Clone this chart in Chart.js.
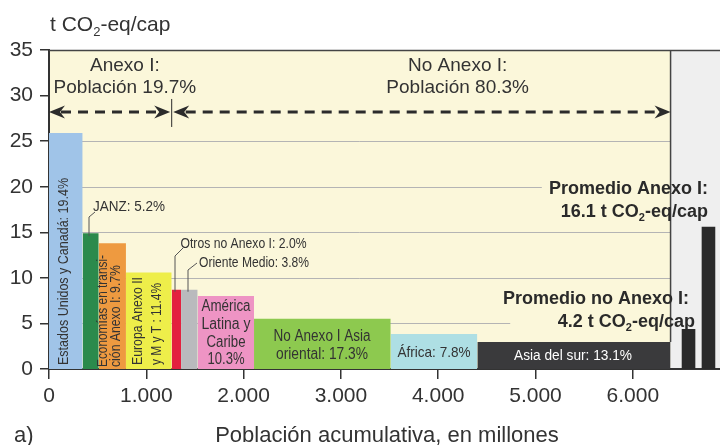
<!DOCTYPE html>
<html>
<head>
<meta charset="utf-8">
<script src="https://cdn.jsdelivr.net/npm/chart.js@4.4.1/dist/chart.umd.min.js"></script>
<style>
  html, body { margin: 0; padding: 0; background: #fff; }
  canvas { display: block; }
</style>
</head>
<body>
<canvas id="chart" width="720" height="445"></canvas>
<script>
// Regions, ordered by emissions per capita
const regionNames = [
  "Estados Unidos y Canadá", "JANZ", "Economías en transición Anexo I",
  "Europa Anexo II y M y T", "Otros no Anexo I", "Oriente Medio",
  "América Latina y Caribe", "No Anexo I Asia oriental", "África", "Asia del sur"
];
// cumulative population at the right edge of each bar (millions)
const popCumulative = [346, 511, 791, 1261, 1357, 1528, 2107, 3512, 4402, 6388];
// t CO2-eq per capita
const emissionsPerCap = [25.9, 14.9, 13.8, 10.6, 8.7, 8.7, 8.0, 5.5, 3.85, 2.97];

// averages (right panel)
const avgNames = ["Promedio no Anexo I", "Promedio Anexo I"];
const avgValues = [4.4, 15.6];

const xTicks = [0, 1000, 2000, 3000, 4000, 5000, 6000];
const yTicks = [0, 5, 10, 15, 20, 25, 30, 35];

const barColors = ["#a0c4e8", "#2b8a4c", "#ee9a40", "#eeee4a", "#e3213f",
  "#b9babd", "#ee94c4", "#8dc94f", "#aedfe4", "#3a3a3c"];
const avgSlots = [[6500, 6645], [6705, 6850]];
const FONT = "'Liberation Sans', Arial, sans-serif";

const datasets = regionNames.map((name, i) => ({
  label: name,
  data: [
    { x: i ? popCumulative[i - 1] : 0, y: emissionsPerCap[i] },
    { x: popCumulative[i], y: emissionsPerCap[i] }
  ],
  backgroundColor: barColors[i],
  borderColor: "rgba(0,0,0,0)",
  borderWidth: 0,
  pointRadius: 0,
  fill: "origin"
}));
avgNames.forEach((name, i) => {
  datasets.push({
    label: name,
    data: [
      { x: avgSlots[i][0], y: avgValues[i] },
      { x: avgSlots[i][1], y: avgValues[i] }
    ],
    backgroundColor: "#2a2a2a",
    borderColor: "rgba(0,0,0,0)",
    borderWidth: 0,
    pointRadius: 0,
    fill: "origin"
  });
});

// draw "t CO2-eq/cap" style strings with a subscript 2
function richText(ctx, parts, x, y, align, size, weight) {
  const big = weight + " " + size + "px " + FONT;
  const small = weight + " " + Math.round(size * 0.6) + "px " + FONT;
  let total = 0;
  parts.forEach(p => { ctx.font = p.sub ? small : big; total += ctx.measureText(p.t).width; });
  let cx = align === "right" ? x - total : align === "center" ? x - total / 2 : x;
  ctx.textAlign = "left";
  ctx.textBaseline = "middle";
  parts.forEach(p => {
    ctx.font = p.sub ? small : big;
    ctx.fillText(p.t, cx, p.sub ? y + size * 0.35 : y);
    cx += ctx.measureText(p.t).width;
  });
}

function arrowHead(ctx, tipX, y, dir) {
  ctx.beginPath();
  ctx.moveTo(tipX, y);
  ctx.lineTo(tipX - dir * 16, y - 6.5);
  ctx.lineTo(tipX - dir * 11, y);
  ctx.lineTo(tipX - dir * 16, y + 6.5);
  ctx.closePath();
  ctx.fill();
}

const decor = {
  id: "decor",
  beforeDraw(chart) {
    const ctx = chart.ctx, xs = chart.scales.x, ys = chart.scales.y, a = chart.chartArea;
    const X = v => xs.getPixelForValue(v), Y = v => ys.getPixelForValue(v);
    const endX = popCumulative[popCumulative.length - 1];
    ctx.save();
    ctx.fillStyle = "#fff";
    ctx.fillRect(0, 0, chart.width, chart.height);
    ctx.fillStyle = "#fbf7da";
    ctx.fillRect(a.left, a.top, X(endX) - a.left, a.bottom - a.top);
    ctx.fillStyle = "#efefef";
    ctx.fillRect(X(endX), a.top, a.right - X(endX), a.bottom - a.top);
    // gridlines, stopped short where the average labels sit
    const gridEnd = { 5: 4740, 10: endX, 15: endX, 20: 5065, 25: endX };
    ctx.strokeStyle = "#b4b4b4";
    ctx.lineWidth = 1;
    Object.keys(gridEnd).forEach(v => {
      const y = Math.round(Y(+v)) + 0.5;
      ctx.beginPath();
      ctx.moveTo(a.left, y);
      ctx.lineTo(X(gridEnd[v]), y);
      ctx.stroke();
    });
    ctx.restore();
  },
  afterDatasetsDraw(chart) {
    const ctx = chart.ctx, xs = chart.scales.x, ys = chart.scales.y, a = chart.chartArea;
    const X = v => xs.getPixelForValue(v), Y = v => ys.getPixelForValue(v);
    const endX = popCumulative[popCumulative.length - 1];
    const split = popCumulative[3];
    ctx.save();

    // frame: top line and right edge of the yellow panel
    ctx.strokeStyle = "#444";
    ctx.lineWidth = 1.5;
    ctx.beginPath();
    ctx.moveTo(a.left, a.top + 0.5);
    ctx.lineTo(a.right, a.top + 0.5);
    ctx.moveTo(X(endX), a.top);
    ctx.lineTo(X(endX), Y(emissionsPerCap[9]));
    ctx.stroke();

    // dashed population arrows
    const ay = Y(28.2);
    ctx.strokeStyle = "#2b2b2b";
    ctx.fillStyle = "#2b2b2b";
    ctx.lineWidth = 3;
    ctx.setLineDash([10, 7]);
    ctx.beginPath();
    ctx.moveTo(X(0) + 12, ay); ctx.lineTo(X(split) - 12, ay);
    ctx.moveTo(X(split) + 14, ay); ctx.lineTo(X(endX) - 12, ay);
    ctx.stroke();
    ctx.setLineDash([]);
    arrowHead(ctx, X(0), ay, -1);
    arrowHead(ctx, X(split) - 1.5, ay, 1);
    arrowHead(ctx, X(split) + 1.5, ay, -1);
    arrowHead(ctx, X(endX), ay, 1);
    ctx.lineWidth = 1;
    ctx.beginPath();
    ctx.moveTo(X(split), ay - 13); ctx.lineTo(X(split), ay + 15);
    ctx.stroke();

    // group labels
    ctx.fillStyle = "#333";
    ctx.font = "19px " + FONT;
    ctx.textAlign = "center";
    ctx.textBaseline = "middle";
    ctx.fillText("Anexo I:", X(780), 66);
    ctx.fillText("Población 19.7%", X(780), 88);
    ctx.fillText("No Anexo I:", X(4200), 66);
    ctx.fillText("Población 80.3%", X(4200), 88);

    // axis titles
    richText(ctx, [{ t: "t CO" }, { t: "2", sub: true }, { t: "-eq/cap" }], 50, 25, "left", 21, "normal");
    ctx.fillStyle = "#333";
    ctx.font = "22px " + FONT;
    ctx.textAlign = "center";
    ctx.fillText("Población acumulativa, en millones", 387, 436);
    ctx.textAlign = "left";
    ctx.fillText("a)", 14, 436);

    // rotated labels inside the tall bars
    const rot = (lines, cxs, bottom, size, widths) => {
      ctx.font = size + "px " + FONT;
      ctx.textAlign = "left";
      ctx.textBaseline = "middle";
      lines.forEach((t, i) => {
        ctx.save();
        ctx.translate(cxs[i], bottom);
        ctx.rotate(-Math.PI / 2);
        ctx.fillText(t, 0, 0, widths[i]);
        ctx.restore();
      });
    };
    ctx.fillStyle = "#333";
    rot(["Estados Unidos y Canadá: 19.4%"], [64], 365, 15, [187]);
    rot(["Economías en transi-", "ción Anexo I: 9.7%"], [103, 116.5], 367, 14, [112, 102]);
    rot(["Europa Anexo II", "y M y T : 11.4%"], [138.5, 157.5], 365, 14, [88, 82]);

    // horizontal labels
    const txt = (t, x, y, size, maxW, align) => {
      ctx.font = size + "px " + FONT;
      ctx.textAlign = align || "center";
      ctx.textBaseline = "middle";
      ctx.fillText(t, x, y, maxW);
    };
    txt("JANZ: 5.2%", 93, 207, 14, 72, "left");
    txt("Otros no Anexo I: 2.0%", 180.5, 244, 14, 126, "left");
    txt("Oriente Medio: 3.8%", 199, 263, 14, 110, "left");
    txt("América", 226, 307, 16, 49);
    txt("Latina y", 226, 325, 16, 49);
    txt("Caribe", 226, 343, 16, 39);
    txt("10.3%", 226, 360, 16, 37);
    txt("No Anexo I Asia", 322, 337, 16, 97);
    txt("oriental: 17.3%", 322, 355, 16, 92);
    txt("África: 7.8%", 434, 353, 15, 73);
    ctx.fillStyle = "#fff";
    txt("Asia del sur: 13.1%", 573, 356, 14, 118);

    // leader lines
    ctx.strokeStyle = "#555";
    ctx.lineWidth = 1;
    ctx.beginPath();
    ctx.moveTo(89, Y(emissionsPerCap[1]) + 3); ctx.lineTo(89, 217); ctx.lineTo(95, 212);
    ctx.moveTo(175, Y(emissionsPerCap[4]) + 2); ctx.lineTo(175, 256); ctx.lineTo(183, 248);
    ctx.moveTo(188, Y(emissionsPerCap[5]) + 2); ctx.lineTo(188, 270); ctx.lineTo(197, 263);
    ctx.stroke();

    // average labels
    ctx.fillStyle = "#2a2a2a";
    ctx.font = "bold 18px " + FONT;
    ctx.textAlign = "right";
    ctx.textBaseline = "middle";
    ctx.fillText("Promedio Anexo I:", 708, 189, 164);
    richText(ctx, [{ t: "16.1 t CO" }, { t: "2", sub: true }, { t: "-eq/cap" }], 708, 212, "right", 18, "bold");
    ctx.textAlign = "right";
    ctx.font = "bold 18px " + FONT;
    ctx.fillText("Promedio no Anexo I:", 689, 299, 192);
    richText(ctx, [{ t: "4.2 t CO" }, { t: "2", sub: true }, { t: "-eq/cap" }], 695, 322, "right", 18, "bold");
    ctx.restore();
  }
};

new Chart(document.getElementById("chart"), {
  type: "line",
  data: { datasets: datasets },
  options: {
    responsive: false,
    animation: false,
    devicePixelRatio: 1,
    layout: { padding: { top: 50, right: 0, left: 0, bottom: 0 } },
    plugins: { legend: { display: false }, tooltip: { enabled: false } },
    elements: { line: { tension: 0 } },
    scales: {
      x: {
        type: "linear",
        min: 0,
        max: 6896,
        afterFit: s => { s.height = 76; },
        afterBuildTicks: s => { s.ticks = xTicks.map(v => ({ value: v })); },
        ticks: {
          color: "#333",
          font: { family: FONT, size: 21 },
          padding: 5,
          maxRotation: 0,
          callback: v => v === 0 ? "0" : (v / 1000) + ".000"
        },
        grid: { drawOnChartArea: false, tickLength: 10, color: "#333", lineWidth: 1.5 },
        border: { color: "#333", width: 2 }
      },
      y: {
        min: 0,
        max: 35,
        afterFit: s => { s.width = 49; },
        afterBuildTicks: s => { s.ticks = yTicks.map(v => ({ value: v })); },
        ticks: {
          color: "#333",
          font: { family: FONT, size: 21 },
          padding: 7
        },
        grid: { drawOnChartArea: false, tickLength: 9, color: "#333", lineWidth: 1.5 },
        border: { color: "#333", width: 2 }
      }
    }
  },
  plugins: [decor]
});
</script>
</body>
</html>
